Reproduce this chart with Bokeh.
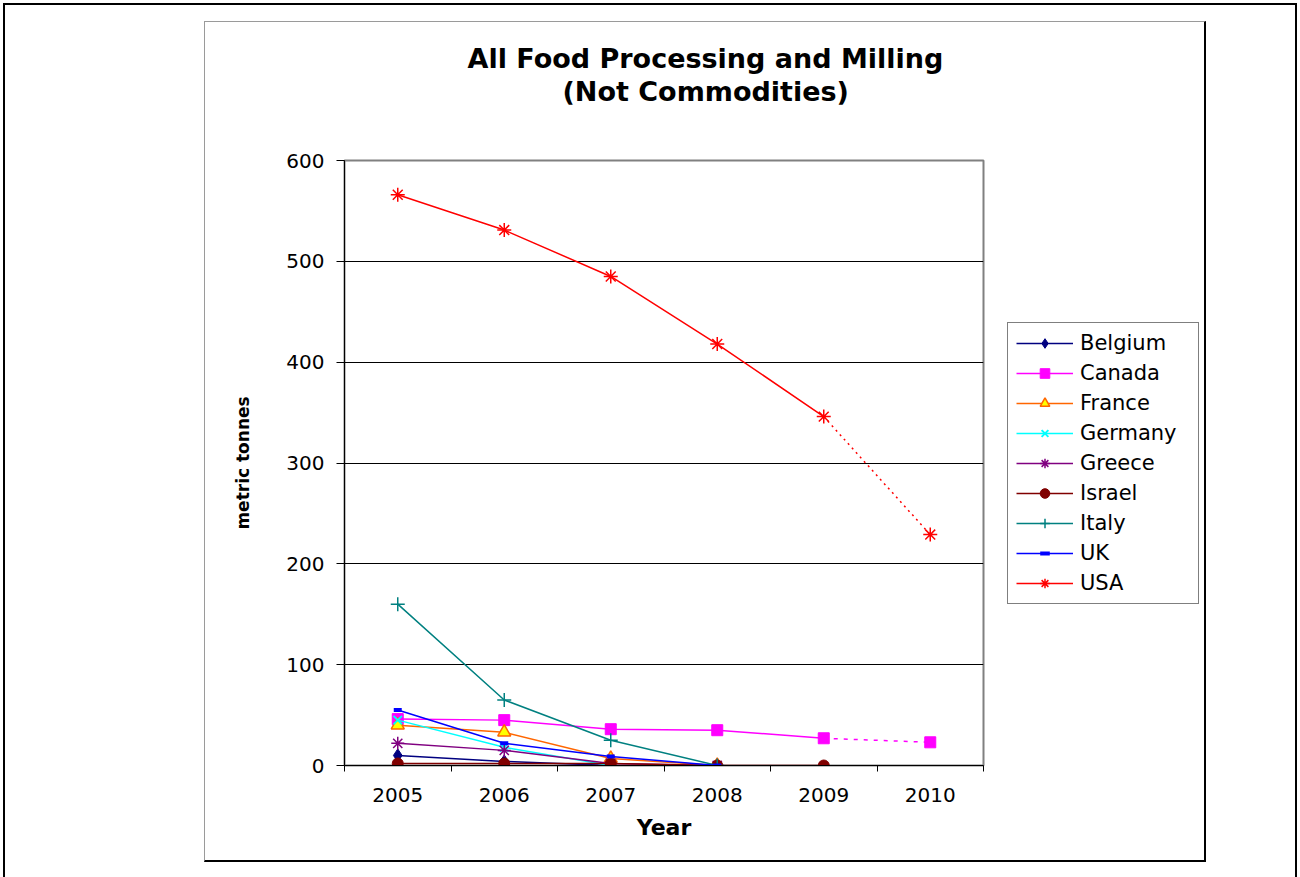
from bokeh.plotting import figure
from bokeh.models import Range1d, FixedTicker, Legend, LegendItem, Title
from bokeh.layouts import column, row
from bokeh.embed import file_html
from bokeh.resources import INLINE

# ---- data ----
years = [2005, 2006, 2007, 2008, 2009, 2010]
belgium = [10, 4, 0]
canada = [46, 45, 36, 35, 27, 23]
france = [40, 33, 7, 0]
germany = [45, 18, 0]
greece = [22, 15, 2, 0]
israel = [2, 2, 2, 0, 0]
italy = [160, 65, 25, 0]
uk = [55, 22, 9, 0]
usa = [566, 531, 485, 418, 346, 229]
y_ticks = [0, 100, 200, 300, 400, 500, 600]

title_lines = ["All Food Processing and Milling", "(Not Commodities)"]

FONT = "DejaVu Sans"

series = [
    ("Belgium", belgium, dict(marker="diamond", size=13, color="#000080", fill="#000080", lw=1)),
    ("Canada", canada, dict(marker="square", size=11, color="#FF00FF", fill="#FF00FF", lw=1)),
    ("France", france, dict(marker="triangle", size=13, color="#FF6600", fill="#FFFF00", lw=1.5)),
    ("Germany", germany, dict(marker="x", size=12, color="#00FFFF", fill="#00FFFF", lw=2)),
    ("Greece", greece, dict(marker="asterisk", size=13, color="#800080", fill="#800080", lw=1.5)),
    ("Israel", israel, dict(marker="circle", size=11, color="#800000", fill="#800000", lw=1)),
    ("Italy", italy, dict(marker="cross", size=14, color="#008080", fill="#008080", lw=1.5)),
    ("UK", uk, dict(marker="dash", size=8, color="#0000FF", fill="#0000FF", lw=4)),
    ("USA", usa, dict(marker="asterisk", size=14, color="#FF0000", fill="#FF0000", lw=1.5)),
]
# last segment (2009-2010) is drawn dotted for these series
dotted_tail = {"Canada": "4 6", "USA": "2 4"}

p = figure(width=795, height=838, sizing_mode="fixed", output_backend="svg", toolbar_location=None,
           x_range=Range1d(years[0] - 0.5, years[-1] + 0.5), y_range=Range1d(y_ticks[0], y_ticks[-1]),
           min_border_left=139, min_border_right=17, min_border_top=138, min_border_bottom=95,
           background_fill_color="white", border_fill_color="white",
           outline_line_color="#808080", outline_line_width=2)

# separate narrow panel that only carries the legend (its ranges keep the proxy data out of view)
pleg = figure(width=204, height=838, sizing_mode="fixed", output_backend="svg", toolbar_location=None,
              x_range=Range1d(0, 1), y_range=Range1d(0, 1), x_axis_type=None, y_axis_type=None,
              min_border=0, outline_line_color=None, background_fill_color="white",
              border_fill_color="white")
pleg.grid.visible = False

items = []
for name, vals, st in series:
    xs = years[:len(vals)]
    if name in dotted_tail:
        solid_x, solid_y = xs[:-1], vals[:-1]
        p.line(xs[-2:], vals[-2:], line_color=st["color"], line_width=1.5,
               line_dash=dotted_tail[name])
    else:
        solid_x, solid_y = xs, vals
    p.line(solid_x, solid_y, line_color=st["color"], line_width=1.5)
    p.scatter(xs, vals, marker=st["marker"], size=st["size"], line_color=st["color"],
              fill_color=st["fill"], line_width=st["lw"])
    # legend proxies with the same styles (outside the legend panel's visible range)
    lr = pleg.line(xs, vals, line_color=st["color"], line_width=1.5)
    sr = pleg.scatter(xs, vals, marker=st["marker"], size=st["size"], line_color=st["color"],
                      fill_color=st["fill"], line_width=st["lw"])
    items.append(LegendItem(label=name, renderers=[lr, sr]))

# axes
xa = p.xaxis[0]
xa.ticker = FixedTicker(ticks=years, minor_ticks=[y - 0.5 for y in years] + [years[-1] + 0.5])
xa.major_tick_out = 0
xa.major_tick_in = 0
xa.minor_tick_out = 6
xa.minor_tick_in = 0
xa.minor_tick_line_color = "black"
xa.axis_line_color = "black"
xa.major_label_text_font = FONT
xa.major_label_text_font_size = "20px"
xa.major_label_text_color = "black"
xa.major_label_standoff = 16
xa.axis_label = "Year"
xa.axis_label_text_font = FONT
xa.axis_label_text_font_style = "bold"
xa.axis_label_text_font_size = "22px"
xa.axis_label_text_color = "black"
xa.axis_label_standoff = 10

ya = p.yaxis[0]
ya.ticker = FixedTicker(ticks=y_ticks)
ya.minor_tick_line_color = None
ya.major_tick_out = 8
ya.major_tick_in = 0
ya.major_tick_line_color = "black"
ya.axis_line_color = "black"
ya.major_label_text_font = FONT
ya.major_label_text_font_size = "20px"
ya.major_label_text_color = "black"
ya.major_label_standoff = 12
ya.axis_label = "metric tonnes"
ya.axis_label_text_font = FONT
ya.axis_label_text_font_style = "bold"
ya.axis_label_text_font_size = "17px"
ya.axis_label_text_color = "black"
ya.axis_label_standoff = 30

p.xgrid.visible = False
p.ygrid.ticker = FixedTicker(ticks=y_ticks)
p.ygrid.grid_line_color = "black"
p.ygrid.grid_line_width = 1

# title: spacer nearest the frame, then second line, then first line
p.add_layout(Title(text=" ", text_font_size="10px", standoff=41), "above")
p.add_layout(Title(text=title_lines[1], align="left", offset=218, standoff=0,
                   text_font=FONT, text_font_style="bold", text_font_size="27px",
                   text_color="black"), "above")
p.add_layout(Title(text=title_lines[0], align="left", offset=123, standoff=0,
                   text_font=FONT, text_font_style="bold", text_font_size="27px",
                   text_color="black"), "above")

legend = Legend(items=items, location=(7, 161), border_line_color="black", border_line_width=1,
                background_fill_color="white", background_fill_alpha=1,
                label_text_font=FONT, label_text_font_size="21px", label_text_color="black",
                glyph_width=57, glyph_height=24, label_height=24, label_width=110,
                spacing=6, padding=8, margin=0, label_standoff=7)
pleg.add_layout(legend)

box = row(p, pleg, width=1002, height=841, sizing_mode="fixed", margin=(16, 0, 0, 199),
          styles={"border-style": "solid", "border-width": "1px 2px 2px 1px",
                  "border-color": "#9a9a9a #000000 #000000 #9a9a9a"})

layout = column(box, width=1294, height=874, margin=(3, 0, 0, 3),
                styles={"border-left": "2px solid black", "border-top": "2px solid black",
                        "border-right": "2px solid black"})

open("out.html", "w").write(file_html(layout, INLINE))
